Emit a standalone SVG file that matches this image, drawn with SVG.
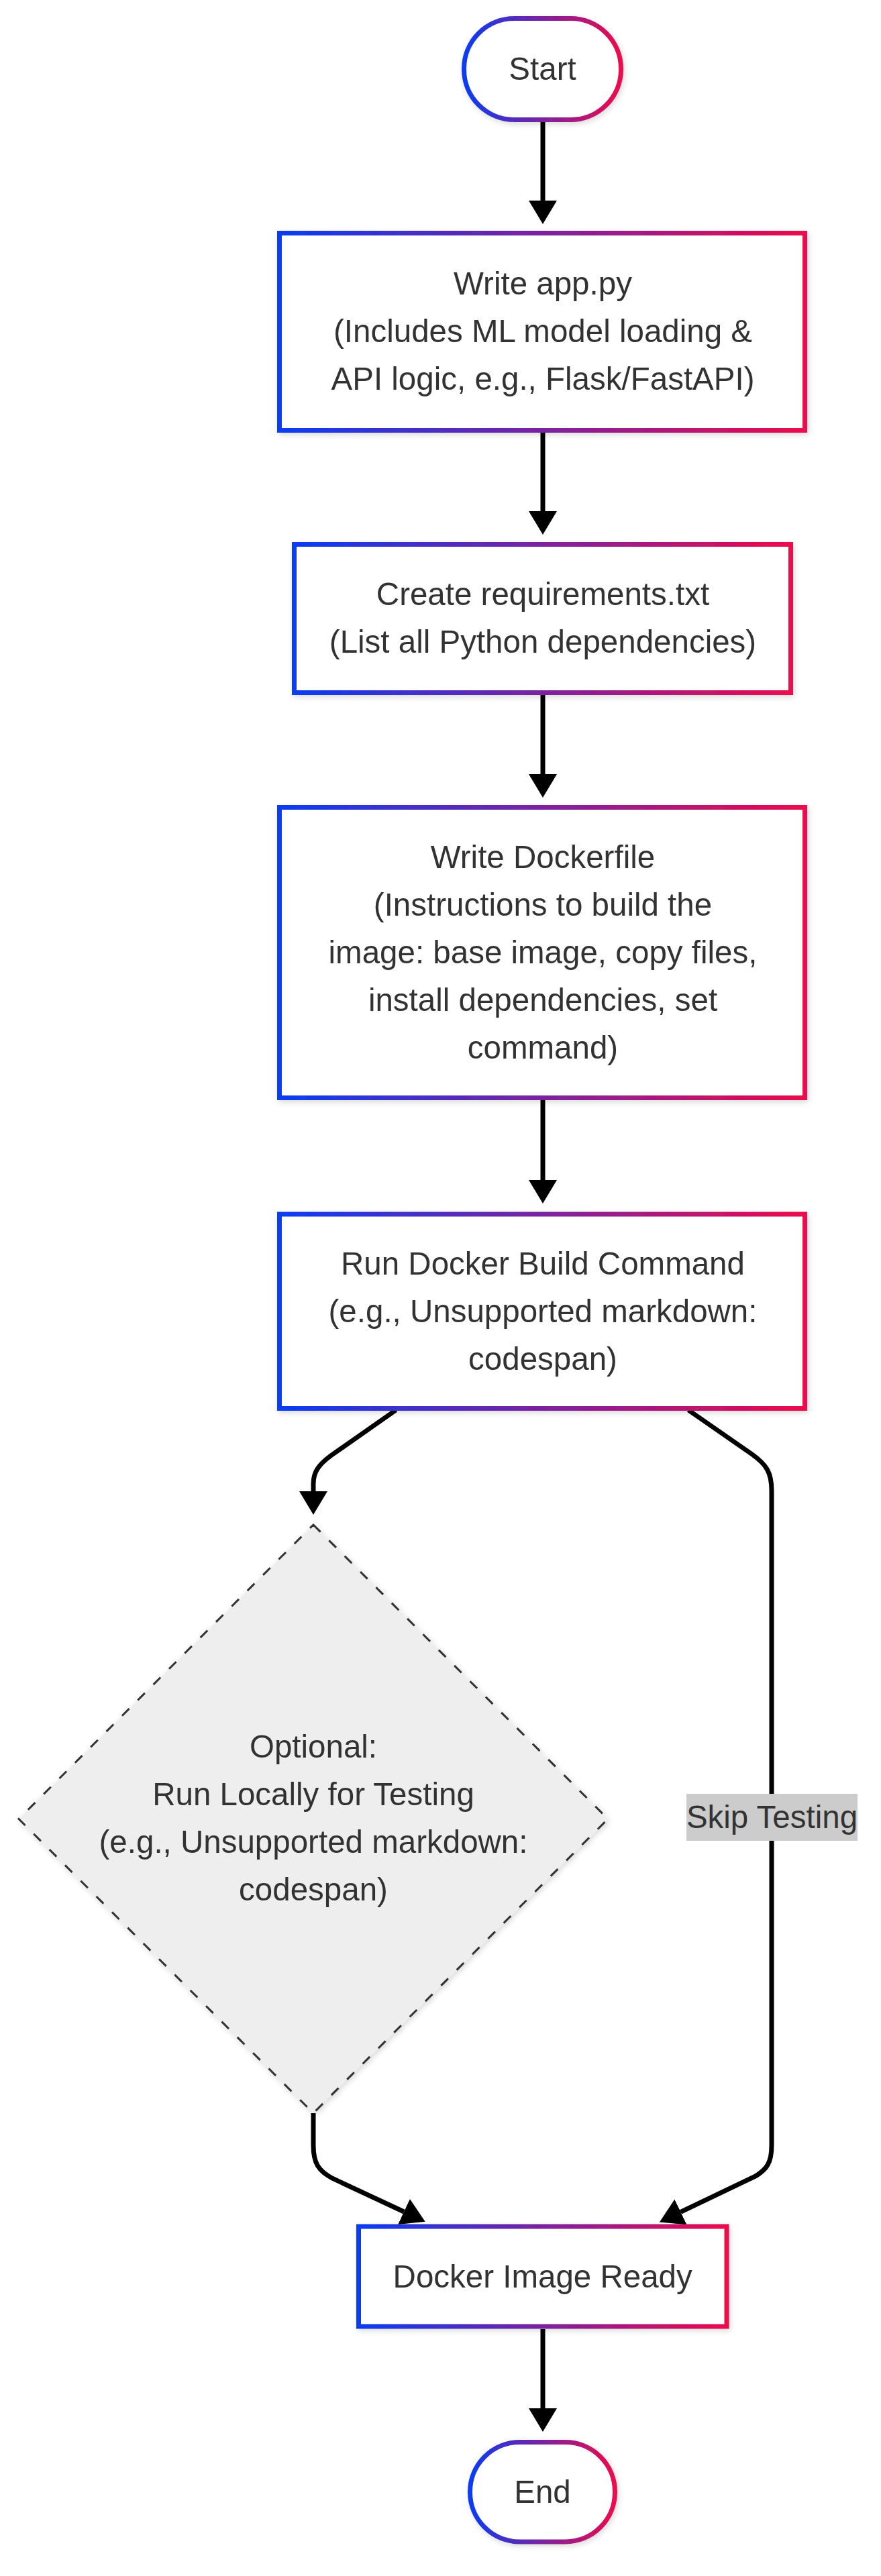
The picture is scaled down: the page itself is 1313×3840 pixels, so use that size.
<svg xmlns="http://www.w3.org/2000/svg" width="1313" height="3840" viewBox="0 0 1313 3840">
<style>
.node{fill:#ffffff;stroke:url(#grad);stroke-width:7;}
.t{font-family:"Liberation Sans",Arial,sans-serif;font-size:47.5px;fill:#333333;text-anchor:middle;}
.edge{fill:none;stroke:#000000;stroke-width:7;}
.dia{fill:#eeeeee;stroke:#333333;stroke-width:3;stroke-dasharray:15 18;}
</style>
<defs>
<linearGradient id="grad" x1="0" y1="0" x2="1" y2="0">
<stop offset="0" stop-color="#0a3cf2"/>
<stop offset="1" stop-color="#ec0a4d"/>
</linearGradient>
<filter id="sh" x="-10%" y="-10%" width="120%" height="120%">
<feDropShadow dx="2" dy="3" stdDeviation="4" flood-color="#000000" flood-opacity="0.15"/>
</filter>
<marker id="arrow" viewBox="0 0 10 10" refX="0" refY="5" markerUnits="userSpaceOnUse" markerWidth="35" markerHeight="42" orient="auto" preserveAspectRatio="none">
<path d="M0,0 L10,5 L0,10 z" fill="#000000"/>
</marker>
</defs>
<rect width="1313" height="3840" fill="#ffffff"/>

<g id="connectors">
<path class="edge" d="M809,182 L809,299" marker-end="url(#arrow)"/>
<path class="edge" d="M809,645 L809,762" marker-end="url(#arrow)"/>
<path class="edge" d="M809,1036 L809,1154" marker-end="url(#arrow)"/>
<path class="edge" d="M809,1640 L809,1759" marker-end="url(#arrow)"/>
<path class="edge" d="M590,2102 L493,2170 C474,2184 467,2195 467,2212 L467,2223" marker-end="url(#arrow)"/>
<path class="edge" d="M1026,2102 L1121,2168 C1142,2183 1150,2195 1150,2222 L1150,3198 C1150,3225 1142,3234 1126,3244 L1014.5,3297.4" marker-end="url(#arrow)"/>
<path class="edge" d="M467,3150 L467,3198 C467,3225 475,3236 495,3247 L602,3297" marker-end="url(#arrow)"/>
<path class="edge" d="M809,3472 L809,3590" marker-end="url(#arrow)"/>
<g id="label-skip">
<rect x="1023" y="2674" width="255" height="70" fill="#cccccc"/>
<text class="t" x="1150.5" y="2725">Skip Testing</text>
</g>
</g>

<g id="start" filter="url(#sh)">
<rect class="node" x="691.5" y="27.5" width="234" height="151" rx="75" ry="75"/>
<text class="t" x="808.5" y="119">Start</text>
</g>

<g id="write-app" filter="url(#sh)">
<rect class="node" x="416.5" y="347.5" width="783" height="294"/>
<text class="t" x="809" y="439">Write app.py</text>
<text class="t" x="809" y="510">(Includes ML model loading &amp;</text>
<text class="t" x="809" y="581">API logic, e.g., Flask/FastAPI)</text>
</g>

<g id="requirements" filter="url(#sh)">
<rect class="node" x="438.5" y="811.5" width="740" height="221"/>
<text class="t" x="809" y="902">Create requirements.txt</text>
<text class="t" x="809" y="973">(List all Python dependencies)</text>
</g>

<g id="dockerfile" filter="url(#sh)">
<rect class="node" x="416.5" y="1203.5" width="783" height="433"/>
<text class="t" x="809" y="1294">Write Dockerfile</text>
<text class="t" x="809" y="1365">(Instructions to build the</text>
<text class="t" x="809" y="1436">image: base image, copy files,</text>
<text class="t" x="809" y="1507">install dependencies, set</text>
<text class="t" x="809" y="1578">command)</text>
</g>

<g id="build" filter="url(#sh)">
<rect class="node" x="416.5" y="1810" width="783" height="289.5"/>
<text class="t" x="809" y="1899.5">Run Docker Build Command</text>
<text class="t" x="809" y="1970.5">(e.g., Unsupported markdown:</text>
<text class="t" x="809" y="2041.5">codespan)</text>
</g>

<g id="optional" filter="url(#sh)">
<polygon class="dia" points="467,2273 906,2711.5 467,3150 28,2711.5"/>
<text class="t" x="467" y="2620">Optional:</text>
<text class="t" x="467" y="2691">Run Locally for Testing</text>
<text class="t" x="467" y="2762">(e.g., Unsupported markdown:</text>
<text class="t" x="467" y="2833">codespan)</text>
</g>

<g id="ready" filter="url(#sh)">
<rect class="node" x="534.5" y="3319" width="548.5" height="149"/>
<text class="t" x="808.7" y="3410">Docker Image Ready</text>
</g>

<g id="end" filter="url(#sh)">
<rect class="node" x="700.5" y="3640.5" width="216" height="148.5" rx="74" ry="74"/>
<text class="t" x="808.5" y="3731">End</text>
</g>
</svg>
